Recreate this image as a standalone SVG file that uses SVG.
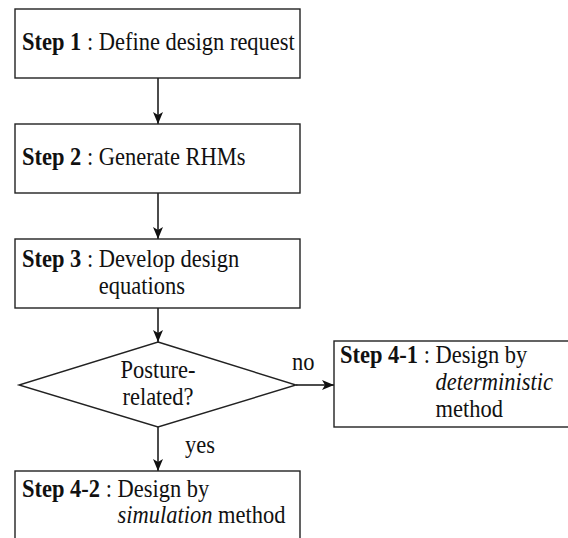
<svg xmlns="http://www.w3.org/2000/svg" width="568" height="538" viewBox="0 0 568 538">
<defs>
<style>
.box{fill:#fff;stroke:#222;stroke-width:1.4}
.t{font-family:'Liberation Serif','Times New Roman',Times,'DejaVu Serif',serif;font-size:26px;fill:#111}
.b{font-weight:bold}
.i{font-style:italic}
.c{fill:none;stroke:#111;stroke-width:1.5}
</style>
<marker id="ah" viewBox="0 0 12 10" refX="12" refY="5" markerWidth="12" markerHeight="10" markerUnits="userSpaceOnUse" orient="auto">
<path d="M0,0 L12,5 L0,10 L3,5 z" fill="#111"/>
</marker>
</defs>
<rect width="568" height="538" fill="#fff"/>
<g id="connectors">
<line class="c" x1="158" y1="78" x2="158" y2="124" marker-end="url(#ah)"/>
<line class="c" x1="158" y1="193" x2="158" y2="239" marker-end="url(#ah)"/>
<line class="c" x1="158" y1="308" x2="158" y2="342" marker-end="url(#ah)"/>
<line class="c" x1="158" y1="427" x2="158" y2="471" marker-end="url(#ah)"/>
<line class="c" x1="296" y1="385" x2="334" y2="385" marker-end="url(#ah)"/>
<text class="t" font-family="Liberation Serif, serif" transform="translate(292,370) scale(0.865,1)">no</text>
<text class="t" font-family="Liberation Serif, serif" transform="translate(185,453) scale(0.865,1)">yes</text>
</g>
<g id="step1">
<rect class="box" x="15" y="9" width="285" height="69"/>
<text class="t" font-family="Liberation Serif, serif" transform="translate(22,50) scale(0.865,1)"><tspan class="b">Step 1</tspan> : Define design request</text>
</g>
<g id="step2">
<rect class="box" x="15" y="124" width="285" height="69"/>
<text class="t" font-family="Liberation Serif, serif" transform="translate(22,165) scale(0.865,1)"><tspan class="b">Step 2</tspan> : Generate RHMs</text>
</g>
<g id="step3">
<rect class="box" x="15" y="239" width="285" height="69"/>
<g transform="translate(22,267) scale(0.865,1)" font-family="Liberation Serif, serif">
<text class="t" x="0" y="0"><tspan class="b">Step 3</tspan> : Develop design</text>
<text class="t" x="88.8" y="27">equations</text>
</g>
</g>
<g id="decision">
<polygon class="box" points="158,342 296,385 158,427 19,385"/>
<g transform="translate(158,378) scale(0.865,1)" font-family="Liberation Serif, serif">
<text class="t" x="0" y="0" text-anchor="middle">Posture-</text>
<text class="t" x="0" y="27" text-anchor="middle">related?</text>
</g>
</g>
<g id="step4-1">
<rect class="box" x="334" y="341" width="240" height="86"/>
<g transform="translate(340,363) scale(0.865,1)" font-family="Liberation Serif, serif">
<text class="t" x="0" y="0"><tspan class="b">Step 4-1</tspan> : Design by</text>
<text class="t i" x="110.5" y="27">deterministic</text>
<text class="t" x="110.5" y="54">method</text>
</g>
</g>
<g id="step4-2">
<rect class="box" x="15" y="471" width="285" height="80"/>
<g transform="translate(22,497) scale(0.865,1)" font-family="Liberation Serif, serif">
<text class="t" x="0" y="0"><tspan class="b">Step 4-2</tspan> : Design by</text>
<text class="t" x="110.5" y="26"><tspan class="i">simulation</tspan> method</text>
</g>
</g>
</svg>
